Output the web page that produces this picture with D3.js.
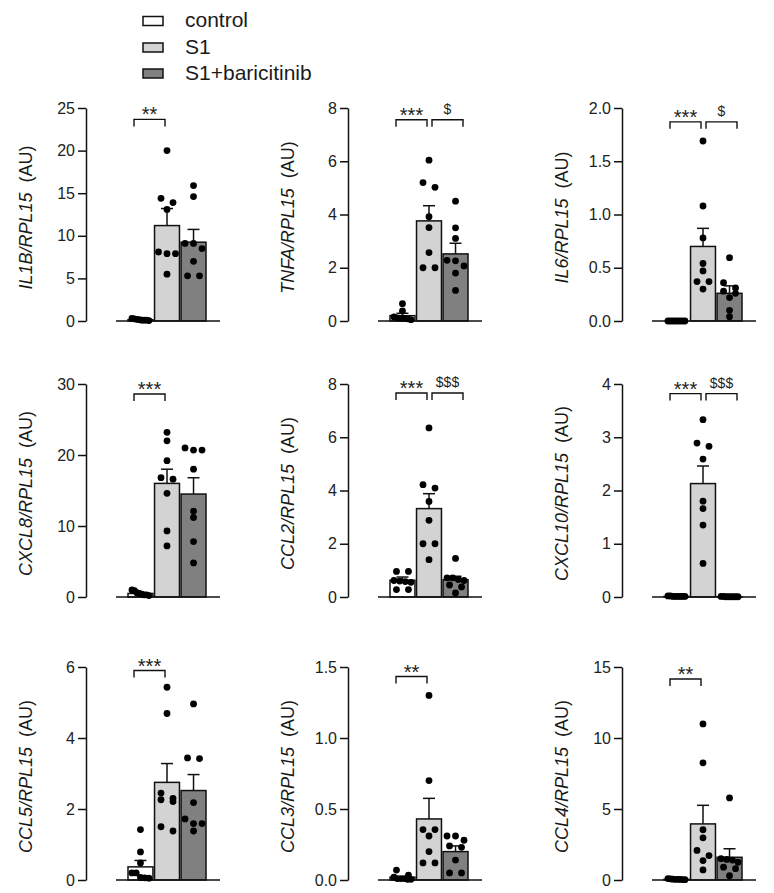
<!DOCTYPE html>
<html><head><meta charset="utf-8">
<script src="https://cdn.jsdelivr.net/npm/d3@7"></script>
<style>
body{margin:0;background:#fff}
svg{display:block}
text{font-family:"Liberation Sans",Arial,Helvetica,sans-serif}
</style>
</head><body>
<svg id="chart" width="774" height="893"></svg>
<script>
// ---------------- DATA ----------------
const groups = ["control", "S1", "S1+baricitinib"];
const genes = ["IL1B", "TNFA", "IL6", "CXCL8", "CCL2", "CXCL10", "CCL5", "CCL3", "CCL4"];
const yMax = [25, 8, 2, 30, 8, 4, 6, 1.5, 15];
const yTicks = [
  [0, 5, 10, 15, 20, 25], [0, 2, 4, 6, 8], [0, 0.5, 1.0, 1.5, 2.0],
  [0, 10, 20, 30], [0, 2, 4, 6, 8], [0, 1, 2, 3, 4],
  [0, 2, 4, 6], [0, 0.5, 1.0, 1.5], [0, 5, 10, 15]
];
const tickDecimals = [0, 0, 1, 0, 0, 0, 0, 1, 0];

const controlPoints = [
  [0.3, 0.25, 0.2, 0.15, 0.1, 0.1, 0.1, 0.05],
  [0.65, 0.38, 0.15, 0.12, 0.1, 0.1, 0.08, 0.05],
  [0, 0, 0, 0, 0, 0, 0, 0],
  [1.0, 0.9, 0.6, 0.5, 0.4, 0.3, 0.3, 0.2],
  [0.96, 0.96, 0.62, 0.6, 0.58, 0.55, 0.28, 0.28],
  [0.02, 0.02, 0.01, 0.01, 0.01, 0.01, 0.01, 0.01],
  [1.42, 0.79, 0.48, 0.2, 0.2, 0.07, 0.06, 0.05],
  [0.07, 0.035, 0.02, 0.01, 0.01, 0.01, 0.005, 0.005],
  [0.1, 0.08, 0.06, 0.05, 0.05, 0.04, 0.03, 0.02]
];
const s1Points = [
  [20.0, 14.4, 13.9, 13.1, 8.1, 7.9, 7.9, 5.5],
  [6.04, 5.2, 5.02, 3.92, 3.51, 2.57, 2.0, 2.0],
  [1.69, 1.08, 0.78, 0.54, 0.47, 0.37, 0.37, 0.30],
  [23.2, 22.0, 19.2, 16.8, 16.6, 14.6, 9.3, 7.2],
  [6.35, 4.22, 4.09, 3.59, 2.88, 2.0, 2.0, 1.4],
  [3.33, 2.89, 2.83, 2.59, 1.80, 1.66, 1.35, 0.63],
  [5.43, 4.69, 2.45, 2.30, 2.26, 2.21, 1.50, 1.38],
  [1.30, 0.70, 0.355, 0.355, 0.31, 0.20, 0.12, 0.12],
  [10.99, 8.25, 3.54, 2.97, 2.08, 1.72, 1.37, 0.71]
];
const bariPoints = [
  [15.9, 14.6, 9.1, 9.1, 8.5, 7.0, 5.3, 5.3],
  [4.5, 3.5, 3.1, 2.28, 2.26, 2.07, 1.8, 1.15],
  [0.595, 0.36, 0.31, 0.28, 0.26, 0.22, 0.10, 0.04],
  [21.0, 20.7, 20.7, 18.0, 12.1, 11.2, 7.8, 4.8],
  [1.45, 0.72, 0.72, 0.66, 0.62, 0.45, 0.38, 0.15],
  [0.01, 0.01, 0.005, 0.005, 0.005, 0.005, 0.005, 0.005],
  [4.96, 3.44, 3.42, 2.18, 1.72, 1.59, 1.59, 1.38],
  [0.31, 0.31, 0.28, 0.24, 0.23, 0.14, 0.05, 0.05],
  [5.78, 1.5, 1.45, 1.4, 1.25, 0.9, 0.8, 0.3]
];
const controlMean = [0.15, 0.2, 0, 0.5, 0.63, 0.01, 0.37, 0.02, 0.05];
const s1Mean      = [11.2, 3.76, 0.70, 16.0, 3.32, 2.13, 2.75, 0.43, 3.95];
const bariMean    = [9.25, 2.52, 0.26, 14.5, 0.65, 0.005, 2.52, 0.20, 1.6];
const controlSem  = [0.05, 0.09, 0, 0.1, 0.12, 0.002, 0.18, 0.01, 0.01];
const s1Sem       = [2.0, 0.57, 0.17, 2.0, 0.56, 0.33, 0.53, 0.145, 1.31];
const bariSem     = [1.5, 0.40, 0.07, 2.3, 0.13, 0.001, 0.45, 0.04, 0.6];

const sigControlS1 = ["**", "***", "***", "***", "***", "***", "***", "**", "**"];
const sigS1Bari    = ["", "$", "$", "", "$$$", "$$$", "", "", ""];
const bracketLevel = [23.66, 7.56, 1.87, 28.6, 7.66, 3.82, 5.9, 1.433, 14.15];

// ---------------- STYLE / LAYOUT ----------------
const fills = ["#ffffff", "#d3d3d3", "#808080"];
const colX = [86, 348, 622];
const rowTop = [108, 384, 667];
const plotH = 213;

const svg = d3.select("#chart");

// legend
const legend = svg.append("g");
const legendY = [21, 47.5, 73.5];
groups.forEach((g, i) => {
  legend.append("rect").attr("x", 143).attr("y", legendY[i] - 4.5)
    .attr("width", 20).attr("height", 9)
    .attr("fill", fills[i]).attr("stroke", "#111").attr("stroke-width", 1.5);
  legend.append("text").attr("x", 185).attr("y", legendY[i] + 6)
    .attr("font-size", 21).attr("fill", "#1a1a1a").text(g);
});

function swarmOffsets(vals, y) {
  const idx = vals.map((v, i) => i).sort((a, b) => vals[b] - vals[a]);
  const res = new Array(vals.length).fill(0);
  let grp = [];
  const flush = () => {
    const k = grp.length;
    if (!k) return;
    const s = k === 2 ? 12 : Math.min(9, 17 / Math.max(1, k - 1));
    grp.forEach((id, j) => { res[id] = (j - (k - 1) / 2) * s; });
    grp = [];
  };
  idx.forEach(i => {
    if (grp.length && Math.abs(y(vals[grp[0]]) - y(vals[i])) > 6) flush();
    grp.push(i);
  });
  flush();
  return res;
}

genes.forEach((gene, i) => {
  const row = Math.floor(i / 3), col = i % 3;
  const ax = colX[col], top = rowTop[row], zero = top + plotH;
  const g = svg.append("g");

  const x = d3.scaleBand().domain(groups).range([ax + 42, ax + 120]).paddingInner(0.06).paddingOuter(0);
  const y = d3.scaleLinear().domain([0, yMax[i]]).range([zero, top]);
  const cx = k => x(k) + x.bandwidth() / 2;

  // y axis
  const fmt = tickDecimals[i] ? d3.format(".1f") : d3.format("d");
  const axis = g.append("g").attr("transform", `translate(${ax},0)`)
    .call(d3.axisLeft(y).tickValues(yTicks[i]).tickFormat(fmt).tickSize(8).tickSizeOuter(0).tickPadding(3));
  axis.select(".domain").attr("stroke", "#111").attr("stroke-width", 1.5);
  axis.selectAll(".tick line").attr("stroke", "#111").attr("stroke-width", 1.5);
  axis.selectAll(".tick text").attr("font-size", 16).attr("fill", "#222")
    .attr("font-family", '"Liberation Sans",Arial,sans-serif');

  // y label
  const lbl = g.append("text")
    .attr("transform", `translate(${ax - 54},${(top + zero) / 2 + 3}) rotate(-90)`)
    .attr("text-anchor", "middle").attr("font-size", 18).attr("fill", "#1a1a1a");
  lbl.append("tspan").attr("font-style", "italic").text(gene + "/RPL15");
  lbl.append("tspan").text("\u00A0\u00A0(AU)");

  const means = [controlMean[i], s1Mean[i], bariMean[i]];
  const sems = [controlSem[i], s1Sem[i], bariSem[i]];
  const pts = [controlPoints[i], s1Points[i], bariPoints[i]];

  // bars
  groups.forEach((k, j) => {
    g.append("rect").attr("x", x(k)).attr("width", x.bandwidth())
      .attr("y", y(means[j])).attr("height", y(0) - y(means[j]))
      .attr("fill", fills[j]).attr("stroke", "#111").attr("stroke-width", 1.5);
    const yTop = y(means[j] + sems[j]);
    if (y(means[j]) - yTop > 1.5) {
      g.append("line").attr("x1", cx(k)).attr("x2", cx(k))
        .attr("y1", y(means[j])).attr("y2", yTop).attr("stroke", "#111").attr("stroke-width", 1.5);
      g.append("line").attr("x1", cx(k) - 6).attr("x2", cx(k) + 6)
        .attr("y1", yTop).attr("y2", yTop).attr("stroke", "#111").attr("stroke-width", 1.5);
    }
  });

  // baseline (x axis)
  g.append("line").attr("x1", x.range()[0] - 12).attr("x2", x.range()[1] + 14)
    .attr("y1", y(0)).attr("y2", y(0)).attr("stroke", "#111").attr("stroke-width", 1.5);

  // dots
  groups.forEach((k, j) => {
    const offs = swarmOffsets(pts[j], y);
    g.selectAll(null).data(pts[j]).enter().append("circle")
      .attr("cx", (d, n) => cx(k) + offs[n]).attr("cy", d => y(d))
      .attr("r", 3.4).attr("fill", "#000");
  });

  // significance brackets
  const yb = y(bracketLevel[i]);
  const s1c = cx("S1");
  const drawBracket = (x1, x2, label, isDollar) => {
    g.append("path").attr("d", `M${x1},${yb + 7}V${yb}H${x2}V${yb + 7}`)
      .attr("fill", "none").attr("stroke", "#111").attr("stroke-width", 1.4);
    g.append("text").attr("x", (x1 + x2) / 2).attr("y", isDollar ? yb - 6 : yb + 2)
      .attr("text-anchor", "middle").attr("font-size", isDollar ? 14 : 20)
      .attr("fill", "#222").text(label);
  };
  if (sigControlS1[i]) drawBracket(s1c - 33, s1c - 2, sigControlS1[i], false);
  if (sigS1Bari[i]) drawBracket(s1c + 3, s1c + 34, sigS1Bari[i], true);
});
</script>
</body></html>
